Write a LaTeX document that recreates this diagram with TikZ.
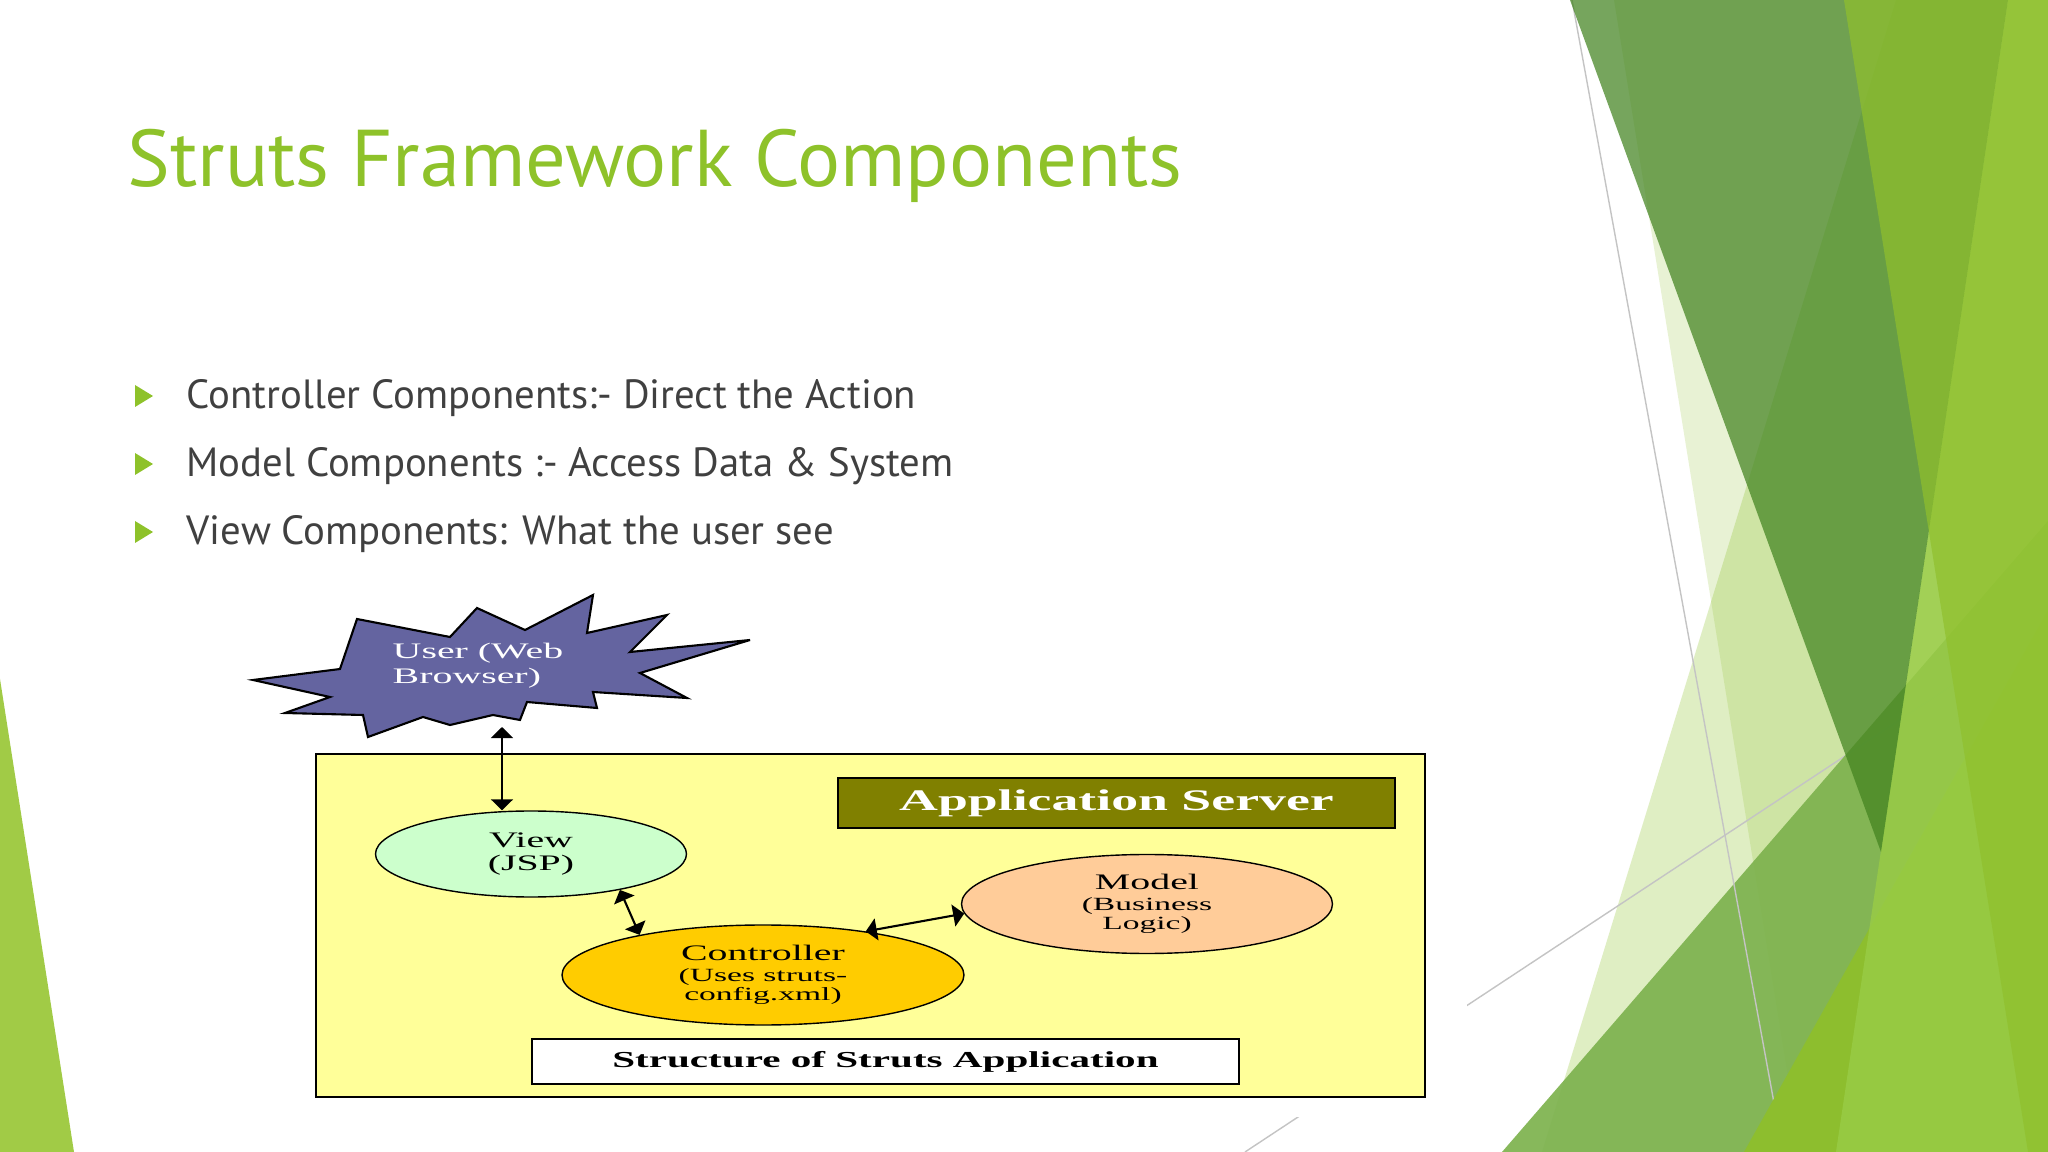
\documentclass[tikz,border=0pt]{standalone}
\usepackage{fontspec}
\setmainfont{PT Sans}
\newfontfamily\gifserif[FakeStretch=1.8]{Liberation Serif}
\usepackage{tikz}
\usetikzlibrary{shapes, arrows.meta, positioning, calc}

\definecolor{facet}{HTML}{8EC22A}
\definecolor{bodygray}{HTML}{404040}
\definecolor{linegray}{HTML}{C4C4C4}
\definecolor{leafdark}{RGB}{66,131,31}
\definecolor{leafmid}{RGB}{125,178,78}
\definecolor{leafbright}{RGB}{141,190,46}
\definecolor{leaflight}{RGB}{153,204,70}
\definecolor{leafgreen}{RGB}{144,192,45}
\definecolor{sliver}{HTML}{A1CB46}
\definecolor{serverbox}{HTML}{FFFF99}
\definecolor{olivebar}{HTML}{808000}
\definecolor{viewfill}{HTML}{CCFFCC}
\definecolor{ctrlfill}{HTML}{FFCC00}
\definecolor{modelfill}{HTML}{FFCC99}
\definecolor{starfill}{HTML}{6464A0}

\newcommand{\smallgif}{\fontsize{5.3}{6}\selectfont}

\begin{document}
\begin{tikzpicture}[
  comp/.style={draw, ellipse, thin, align=center, inner sep=0pt, font=\gifserif\fontsize{6.3}{6.6}\selectfont},
  bullet/.style={anchor=base west, inner sep=0pt, text=bodygray, font=\fontsize{11.6}{14}\selectfont},
  biarrow/.style={semithick, {Triangle[length=1.1mm,width=2.2mm]}-{Triangle[length=1.1mm,width=2.2mm]}},
  deco/.style={linegray, line width=0.4pt}
]
  % Slide background
  \fill[white] (0,0) rectangle (20.48,-11.52);
  \useasboundingbox (0,0) rectangle (20.48,-11.52);

  % Facet shapes on the right
  \fill[facet, opacity=0.2] (16.14,0) -- (18.00,-11.52) -- (20.48,-11.52) -- (20.48,0) -- cycle;
  \fill[facet, opacity=0.28] (15.42,-11.52) -- (18.96,0) -- (20.48,0) -- (20.48,-11.52) -- cycle;
  \draw[deco] (12.45,-11.52) -- (20.48,-6.22);
  \fill[leafmid, opacity=0.92] (15.02,-11.52) -- (20.48,-5.21) -- (20.48,-11.52) -- cycle;
  \draw[deco] (15.72,0) -- (17.83,-11.52);
  \fill[leafbright] (17.44,-11.52) -- (20.48,-6.10) -- (20.48,-11.52) -- cycle;
  \fill[leaflight, opacity=0.82] (20.08,0) -- (18.36,-11.52) -- (20.48,-11.52) -- (20.48,0) -- cycle;
  \fill[leafdark, opacity=0.72] (15.70,0) -- (20.08,0) -- (18.81,-8.52) -- cycle;
  \fill[leafgreen, opacity=0.7] (18.44,0) -- (20.48,0) -- (20.48,-11.52) -- (20.28,-11.52) -- cycle;

  % Left sliver
  \fill[sliver] (0,-6.79) -- (0.74,-11.52) -- (0,-11.52) -- cycle;

  % Title
  \node[anchor=base west, inner sep=0pt, text=facet, font=\fontsize{22.9}{27}\selectfont] (title) at (1.27,-1.87) {Struts Framework Components};

  % Bullets
  \fill[facet] (1.35,-3.85) -- (1.53,-3.96) -- (1.35,-4.07) -- cycle;
  \fill[facet] (1.35,-4.53) -- (1.53,-4.64) -- (1.35,-4.75) -- cycle;
  \fill[facet] (1.35,-5.21) -- (1.53,-5.32) -- (1.35,-5.43) -- cycle;
  \node[bullet] (b1) at (1.86,-4.09) {Controller Components:- Direct the Action};
  \node[bullet] (b2) at (1.86,-4.77) {Model Components :- Access Data \& System};
  \node[bullet] (b3) at (1.86,-5.45) {View Components: What the user see};

  % Picture area
  \fill[white] (2.50,-5.88) rectangle (14.67,-11.17);

  % User (web browser)
  \filldraw[fill=starfill, draw=black, semithick]
    (2.53,-6.80) -- (3.40,-6.69) -- (3.57,-6.19) -- (4.50,-6.37) -- (4.77,-6.08)
    -- (5.25,-6.30) -- (5.93,-5.95) -- (5.87,-6.33) -- (6.67,-6.15) -- (6.30,-6.52)
    -- (7.50,-6.40) -- (6.40,-6.73) -- (6.87,-6.98) -- (5.93,-6.92) -- (5.97,-7.08)
    -- (5.27,-7.02) -- (5.20,-7.20) -- (4.93,-7.15) -- (4.50,-7.25) -- (4.23,-7.17)
    -- (3.68,-7.37) -- (3.63,-7.15) -- (2.85,-7.13) -- (3.30,-6.97) -- cycle;
  \node[align=left, text=white, font=\gifserif\fontsize{6.3}{7.1}\selectfont] (user) at (4.78,-6.655) {User (Web\\Browser)};
  \coordinate (usertip) at (5.02,-7.27);

  % Application server
  \draw[semithick, fill=serverbox] (3.16,-7.54) rectangle (14.25,-10.97);
  \node[draw, semithick, fill=olivebar, minimum width=5.57cm, minimum height=0.44cm, text=white,
    font=\gifserif\bfseries\fontsize{8.5}{10}\selectfont] (appserver) at (11.165,-8.03) {Application Server};

  % Components
  \node[comp, fill=viewfill, minimum width=3.11cm, minimum height=0.86cm] (view) at (5.31,-8.54) {View\\(JSP)};
  \node[comp, fill=ctrlfill, minimum width=4.02cm, minimum height=1.00cm] (ctrl) at (7.63,-9.75) {Controller\\[-0.6pt]{\smallgif (Uses struts-}\\[-1.3pt]{\smallgif config.xml)}};
  \node[comp, fill=modelfill, minimum width=3.71cm, minimum height=0.99cm] (model) at (11.47,-9.04) {Model\\[-0.6pt]{\smallgif (Business}\\[-1.3pt]{\smallgif Logic)}};

  \node[draw, semithick, fill=white, minimum width=7.07cm, minimum height=0.43cm,
    font=\gifserif\bfseries\fontsize{6.5}{8}\selectfont] (caption) at (8.855,-10.615) {Structure of Struts Application};

  % Arrows
  \draw[biarrow] (usertip) -- (usertip |- view.north);
  \draw[biarrow] (view.-22) -- (ctrl.162);
  \draw[biarrow] (ctrl.23) -- (model.183);

\end{tikzpicture}
\end{document}
